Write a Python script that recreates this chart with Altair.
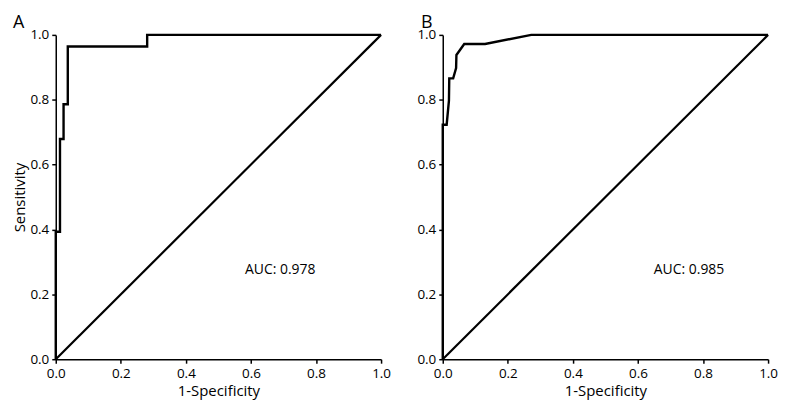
import altair as alt
import pandas as pd

# Panel A ROC curve
a_fpr = [0.0, 0.0, 0.013, 0.013, 0.024, 0.024, 0.037, 0.037, 0.281, 0.281, 1.0]
a_tpr = [0.0, 0.393, 0.393, 0.679, 0.679, 0.786, 0.786, 0.964, 0.964, 1.0, 1.0]
# Panel B ROC curve
b_fpr = [0.0, 0.0, 0.012, 0.019, 0.020, 0.032, 0.041, 0.042, 0.066, 0.130, 0.272, 1.0]
b_tpr = [0.0, 0.723, 0.723, 0.797, 0.866, 0.866, 0.898, 0.938, 0.972, 0.972, 1.0, 1.0]
diag = [0.0, 1.0]
auc_labels = ["AUC: 0.978", "AUC: 0.985"]
panel_labels = ["A", "B"]
ticks = [0.0, 0.2, 0.4, 0.6, 0.8, 1.0]

FONT = "Open Sans"


def panel(fpr, tpr, auc, label, auc_x, show_ytitle, dx):
    roc = pd.DataFrame({"x": fpr, "y": tpr, "i": list(range(len(fpr)))})
    dg = pd.DataFrame({"x": diag, "y": diag, "i": [0, 1]})
    txt = pd.DataFrame({"x": [auc_x], "y": [0.276], "t": [auc]})

    xs = alt.Scale(domain=[0, 1], nice=False, zero=False)
    ys = alt.Scale(domain=[0, 1], nice=False, zero=False)
    xax = alt.Axis(values=ticks, format=".1f", title="1-Specificity")
    yax = alt.Axis(values=ticks, format=".1f",
                   title="Sensitivity" if show_ytitle else None)

    line = alt.Chart(roc).mark_line(color="black", strokeWidth=2.4).encode(
        x=alt.X("x:Q", scale=xs, axis=xax),
        y=alt.Y("y:Q", scale=ys, axis=yax),
        order="i:Q",
    )
    dline = alt.Chart(dg).mark_line(color="black", strokeWidth=2.2).encode(
        x="x:Q", y="y:Q", order="i:Q"
    )
    text = alt.Chart(txt).mark_text(font=FONT, fontSize=14, color="black").encode(
        x="x:Q", y="y:Q", text="t:N"
    )
    return alt.layer(line, dline, text).properties(
        width=327, height=326,
        title=alt.TitleParams(label, anchor="start", fontSize=18, font=FONT,
                              fontWeight="normal", dx=dx, offset=-4),
    )


pa = panel(a_fpr, a_tpr, auc_labels[0], panel_labels[0], 0.69, True, 0)
pb = panel(b_fpr, b_tpr, auc_labels[1], panel_labels[1], 0.757, False, 4)

chart = (
    alt.hconcat(pa, pb, spacing=26)
    .configure_view(stroke=None)
    .configure_axis(
        grid=False,
        domainColor="black",
        domainWidth=1.5,
        tickColor="black",
        tickWidth=1.5,
        tickSize=4,
        labelFont=FONT,
        labelFontSize=13.5,
        labelColor="black",
        labelPadding=3,
        titleFont=FONT,
        titleFontSize=15,
        titleFontWeight="normal",
        titleColor="black",
        titlePadding=4,
        labelFlush=False,
    )
    .configure_axisY(titlePadding=2)
)

chart.save("out.html", embed_options={"renderer": "svg", "actions": False})
